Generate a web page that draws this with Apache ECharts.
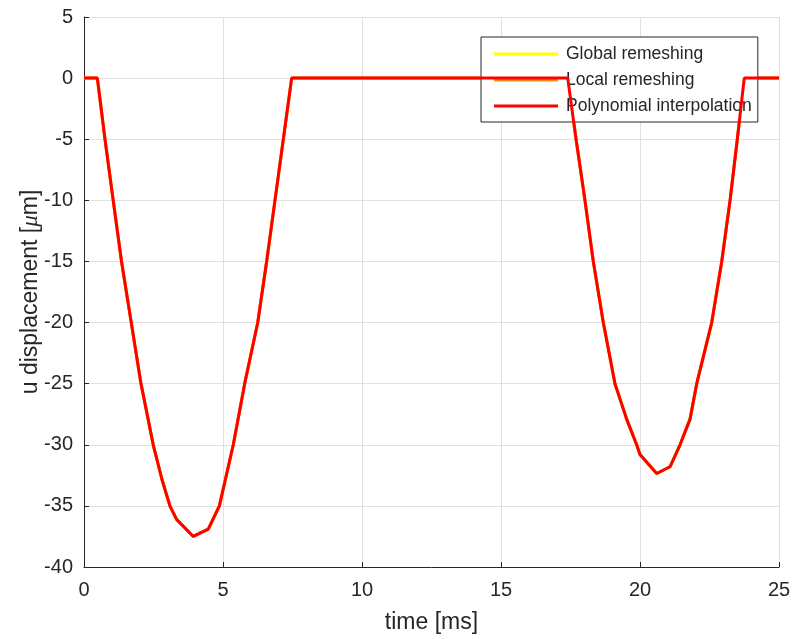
<!DOCTYPE html>
<html>
<head>
<meta charset="utf-8">
<script src="https://cdn.jsdelivr.net/npm/echarts@6/dist/echarts.min.js"></script>
<style>
html,body{margin:0;padding:0;background:#fff;}
#chart{width:792px;height:639px;}
</style>
</head>
<body>
<div id="chart"></div>
<script>
// time [ms]
const timeMs = [0, 0.48, 0.755, 1.05, 1.35, 1.70, 2.05, 2.49, 2.8, 3.09, 3.33, 3.93, 4.47, 4.87, 5.37, 5.78, 6.25, 6.57, 6.87, 7.17, 7.47,
  10, 15, 17.4, 17.70, 18.02, 18.32, 18.68, 19.1, 19.52, 19.88, 20.0, 20.6, 21.08, 21.44, 21.8, 22.04, 22.58, 22.94, 23.24, 23.5, 23.75, 25];
// u displacement [um]
const polyU = [0, 0, -5, -10, -15, -20, -25, -30, -32.8, -35, -36.1, -37.5, -36.9, -35, -30, -25, -20, -15, -10, -5, 0,
  0, 0, 0, -5, -10, -15, -20, -25, -27.9, -30, -30.8, -32.35, -31.8, -30, -27.9, -25, -20, -15, -10, -5, 0, 0];
const globalU = polyU.slice();
const localU = polyU.slice();

const seriesNames = ['Global remeshing', 'Local remeshing', 'Polynomial interpolation'];
const seriesColors = ['#ffff00', '#ff8c1a', '#ff0000'];
const seriesValues = [globalU, localU, polyU];

const xTicks = {min: 0, max: 25, interval: 5};
const yTicks = {min: -40, max: 5, interval: 5};

const FONT = 'Liberation Sans, Arial, Helvetica, sans-serif';
const AX = '#262626';
const GRID = '#e0e0e0';

const chart = echarts.init(document.getElementById('chart'), null, {renderer: 'canvas'});
chart.setOption({
  animation: false,
  backgroundColor: '#fff',
  textStyle: {fontFamily: FONT},
  grid: {left: 84, right: 13, top: 17, bottom: 72, containLabel: false, outerBoundsMode: 'none'},
  legend: {
    orient: 'vertical',
    left: 481, top: 37,
    data: seriesNames,
    icon: 'rect',
    itemWidth: 64, itemHeight: 3,
    itemGap: 6,
    padding: [7, 6, 6, 13],
    borderColor: AX, borderWidth: 1,
    backgroundColor: '#ffffff',
    textStyle: {fontSize: 17.5, color: AX, fontFamily: FONT, lineHeight: 20, padding: [0, 0, 0, 3]}
  },
  xAxis: {
    type: 'value',
    min: xTicks.min, max: xTicks.max, interval: xTicks.interval,
    name: 'time [ms]', nameLocation: 'middle', nameGap: 44, nameMoveOverlap: false,
    nameTextStyle: {fontSize: 23, color: AX, fontFamily: FONT},
    axisLine: {show: true, onZero: false, lineStyle: {color: AX, width: 1}},
    axisTick: {show: true, inside: true, length: 5, lineStyle: {color: AX}},
    axisLabel: {fontSize: 20, color: AX, margin: 13, fontFamily: FONT},
    splitLine: {show: true, lineStyle: {color: GRID, width: 1}}
  },
  yAxis: {
    type: 'value',
    min: yTicks.min, max: yTicks.max, interval: yTicks.interval,
    name: 'u displacement [{i|μ}m]', nameLocation: 'middle', nameGap: 42, nameMoveOverlap: false,
    nameTextStyle: {fontSize: 23, color: AX, fontFamily: FONT,
      rich: {i: {fontSize: 23, fontStyle: 'italic', color: AX, fontFamily: 'Liberation Serif, serif'}}},
    axisLine: {show: true, onZero: false, lineStyle: {color: AX, width: 1}},
    axisTick: {show: true, inside: true, length: 5, lineStyle: {color: AX}},
    axisLabel: {fontSize: 20, color: AX, margin: 11, fontFamily: FONT},
    splitLine: {show: true, lineStyle: {color: GRID, width: 1}}
  },
  series: seriesNames.map((name, k) => ({
    name: name,
    type: 'line',
    symbol: 'none',
    showSymbol: false,
    color: seriesColors[k],
    lineStyle: {color: seriesColors[k], width: 3},
    data: timeMs.map((t, i) => [t, seriesValues[k][i]]),
    z: 2 + k
  }))
});
</script>
</body>
</html>
